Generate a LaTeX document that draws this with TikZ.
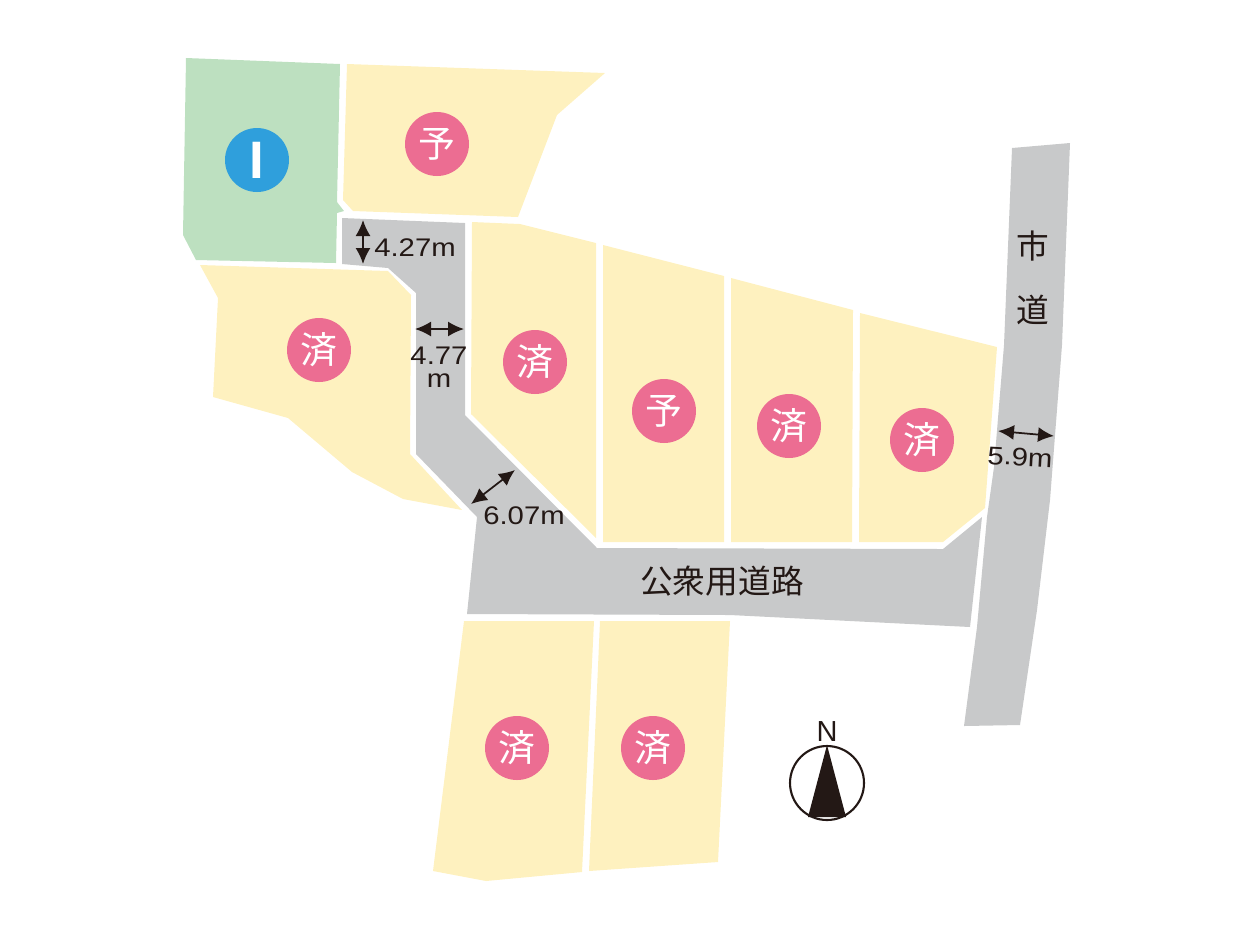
\documentclass[tikz,border=0pt]{standalone}
\usepackage{fontspec}
\setmainfont{Liberation Sans}
\newfontfamily\cjk{Noto Sans CJK JP}
\newfontfamily\wide[FakeStretch=1.15]{Liberation Sans}
\usetikzlibrary{arrows.meta}
\definecolor{lotyellow}{HTML}{FEF1BF}
\definecolor{lotgreen}{HTML}{BDE0C0}
\definecolor{roadgray}{HTML}{C8C9CA}
\definecolor{badgepink}{HTML}{EC6D92}
\definecolor{badgeblue}{HTML}{2F9FDC}
\definecolor{inkdark}{HTML}{231815}
\tikzset{
    lot/.style={fill=lotyellow},
    road/.style={fill=roadgray},
    badge/.style={circle, fill=badgepink, text=white, minimum size=1.28cm, inner sep=0pt, font=\cjk\fontsize{21}{21}\selectfont},
    width/.style={{Latex[length=3.2mm, width=3mm]}-{Latex[length=3.2mm, width=3mm]}, line width=1pt, inkdark},
    dim/.style={text=inkdark, inner sep=0pt, align=center, font=\wide\fontsize{14.5}{13}\selectfont},
    roadname/.style={text=inkdark, inner sep=0pt, font=\cjk\fontsize{18.6}{18.6}\selectfont}
}
\begin{document}
\begin{tikzpicture}[x=0.02cm, y=-0.02cm]
    \useasboundingbox (0,0) rectangle (1250,938);

    % roads
    \fill[road] (342,218) -- (465,223) -- (465,415) -- (597,548) -- (943,549) -- (982,517) -- (970,627) -- (730,615) -- (467,614) -- (477,517) -- (416,454) -- (416,293) -- (388,268) -- (342,264) -- cycle;
    \fill[road] (1012,148) -- (1070,143) -- (1062,345) -- (1050,500) -- (1037,610) -- (1020,725) -- (964,726) -- (977,627) -- (987,517) -- (994,467) -- (1004,345) -- cycle;

    % lots
    \fill[lotgreen] (186,58) -- (340,64) -- (337,202) -- (344,211) -- (337,213) -- (336,263) -- (196,260) -- (183,235) -- cycle;
    \fill[lot] (347,64) -- (605,73) -- (557,115) -- (518,217) -- (353,211) -- (343,200) -- cycle;
    \fill[lot] (200,265) -- (388,271) -- (411,295) -- (410,454) -- (462,510) -- (403,499) -- (352,472) -- (288,418) -- (213,397) -- (218,298) -- cycle;
    \fill[lot] (472,222) -- (520,224) -- (596,243) -- (596,538) -- (471,414) -- cycle;
    \fill[lot] (603,245) -- (724,276) -- (724,542) -- (603,542) -- cycle;
    \fill[lot] (731,278) -- (853,310) -- (852,542) -- (731,542) -- cycle;
    \fill[lot] (860,313) -- (997,347) -- (985,508) -- (943,542) -- (859,542) -- cycle;
    \fill[lot] (464,621) -- (594,621) -- (582,872) -- (486,881) -- (433,871) -- cycle;
    \fill[lot] (600,621) -- (730,621) -- (718,862) -- (589,871) -- cycle;

    % badges
    \node[badge, fill=badgeblue, font=\bfseries\fontsize{30}{30}\selectfont] (sold0) at (257,160) {I};
    \node[badge] (plan1) at (437,144) {予};
    \node[badge] (sold1) at (319,350) {済};
    \node[badge] (sold2) at (535,362) {済};
    \node[badge] (plan2) at (664,411) {予};
    \node[badge] (sold3) at (789,426) {済};
    \node[badge] (sold4) at (922,440) {済};
    \node[badge] (sold5) at (517,748) {済};
    \node[badge] (sold6) at (653,748) {済};

    % road widths
    \coordinate (w1a) at (363,220);
    \coordinate (w1b) at (363,264);
    \coordinate (w2a) at (415,329);
    \coordinate (w2b) at (464,329);
    \coordinate (w3a) at (471,504);
    \coordinate (w3b) at (515,470);
    \coordinate (w4a) at (998,431);
    \coordinate (w4b) at (1054,436);
    \draw[width] (w1a) -- (w1b);
    \draw[width] (w2a) -- (w2b);
    \draw[width] (w3a) -- (w3b);
    \draw[width] (w4a) -- (w4b);
    \node[dim] (d1) at (415,248) {4.27m};
    \node[dim] (d2) at (439,367) {4.77\\m};
    \node[dim] (d3) at (524,516) {6.07m};
    \node[dim, rotate=-3] (d4) at (1020,457) {5.9m};

    % road names
    \node[roadname] (public) at (722,581) {公衆用道路};
    \node[roadname] (city1) at (1033,246) {市};
    \node[roadname] (city2) at (1033,310) {道};

    % north
    \node[circle, draw=inkdark, fill=white, line width=1.2pt, inner sep=0pt, minimum size=1.48cm] (compass) at (827,783) {};
    \fill[inkdark] (compass.north) -- (846,817) -- (808,817) -- cycle;
    \node[text=inkdark, inner sep=0pt, font=\fontsize{16.5}{16.5}\selectfont, above=2pt] (north) at (compass.north) {N};
\end{tikzpicture}
\end{document}
